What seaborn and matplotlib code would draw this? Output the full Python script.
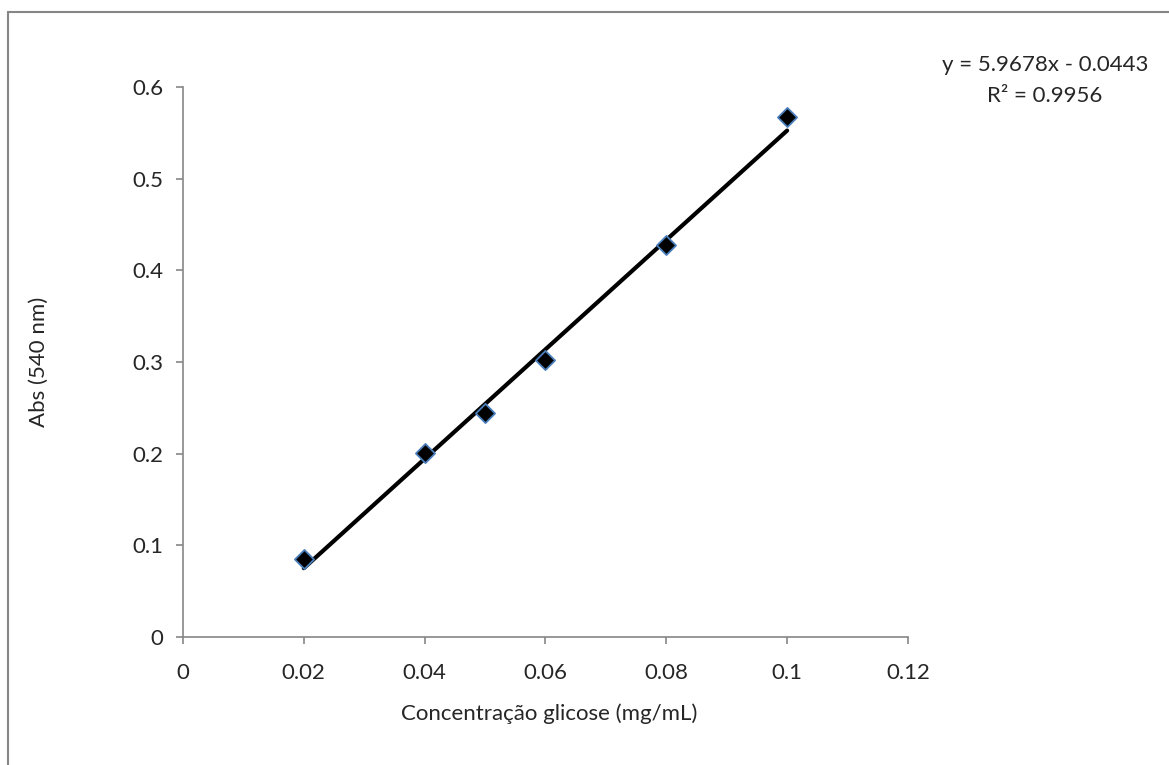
import numpy as np
import pandas as pd
import matplotlib
matplotlib.use("Agg")
import matplotlib.pyplot as plt
import seaborn as sns
from matplotlib.lines import Line2D

conc = [0.02, 0.04, 0.05, 0.06, 0.08, 0.10]
absorb = [0.085, 0.201, 0.244, 0.302, 0.428, 0.567]
x_ticks = [0, 0.02, 0.04, 0.06, 0.08, 0.1, 0.12]
x_tick_labels = ["0", "0.02", "0.04", "0.06", "0.08", "0.1", "0.12"]
y_ticks = [0, 0.1, 0.2, 0.3, 0.4, 0.5, 0.6]
y_tick_labels = ["0", "0.1", "0.2", "0.3", "0.4", "0.5", "0.6"]
slope, intercept = 5.9678, -0.0443
r2 = 0.9956

df = pd.DataFrame({"conc": conc, "abs": absorb})

sns.set_style("white")
plt.rcParams['font.family'] = ['Lato', 'DejaVu Sans']

fig = plt.figure(figsize=(11.69, 7.65), dpi=100)
ax = fig.add_axes([0.1565, 0.1673, 0.7767 - 0.1565, 0.8863 - 0.1673])

# trendline
fit_x = np.array([min(conc), max(conc)])
fit = pd.DataFrame({"x": fit_x, "y": slope * fit_x + intercept})
sns.lineplot(data=fit, x="x", y="y", ax=ax, color="black", linewidth=3, zorder=2)

sns.scatterplot(data=df, x="conc", y="abs", ax=ax, marker="D", s=95,
                color="black", edgecolor="#4a7ebb", linewidth=1.3, zorder=3)

ax.set_xlim(0, 0.12)
ax.set_ylim(0, 0.6)
ax.set_xticks(x_ticks)
ax.set_xticklabels(x_tick_labels)
ax.set_yticks(y_ticks)
ax.set_yticklabels(y_tick_labels)
for s in ["top", "right"]:
    ax.spines[s].set_visible(False)
for s in ["left", "bottom"]:
    ax.spines[s].set_color("#868686")
    ax.spines[s].set_linewidth(1.2)
ax.tick_params(axis="both", which="major", direction="out", length=5, width=1.2,
               color="#868686", labelsize=16, left=True, bottom=True)
ax.tick_params(axis="y", pad=9)
ax.tick_params(axis="x", pad=14)
ax.set_xlabel("Concentração glicose (mg/mL)", fontsize=16)
ax.set_ylabel("Abs (540 nm)", fontsize=16)
ax.xaxis.set_label_coords(0.505, -0.12)
ax.yaxis.set_label_coords(-0.185, 0.5)

fig.text(1045 / 1169, 1 - 65 / 765, f"y = {slope:.4f}x - {abs(intercept):.4f}",
         ha="center", va="center", fontsize=16)
fig.text(1045 / 1169, 1 - 96 / 765, f"R² = {r2:.4f}",
         ha="center", va="center", fontsize=16)

# outer chart border
fig.add_artist(Line2D([8 / 1169, 8 / 1169], [0, 1 - 12 / 765], color="#868686",
                      linewidth=1.5, transform=fig.transFigure))
fig.add_artist(Line2D([8 / 1169, 1], [1 - 12 / 765, 1 - 12 / 765], color="#868686",
                      linewidth=1.5, transform=fig.transFigure))

fig.savefig("out.png", dpi=100)
